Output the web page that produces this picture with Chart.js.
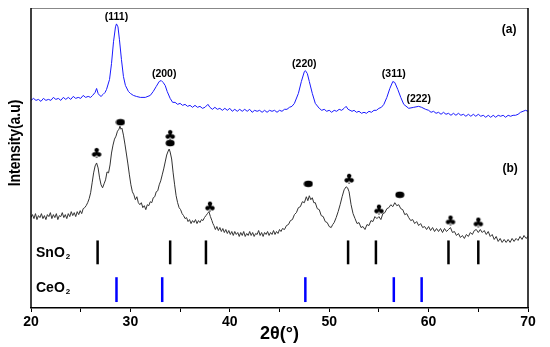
<!DOCTYPE html>
<html>
<head>
<meta charset="utf-8">
<script src="https://cdn.jsdelivr.net/npm/chart.js@4/dist/chart.umd.min.js"></script>
<style>
  html, body { margin: 0; padding: 0; background: #fff; }
  #wrap { width: 550px; height: 347px; }
</style>
</head>
<body>
<div id="wrap"><canvas id="myChart" width="550" height="347"></canvas></div>
<script>
// pattern (a) - blue
var angA = [20.0,20.25,20.5,20.75,21.0,21.25,21.5,21.75,22.0,22.25,22.5,22.75,23.0,23.25,23.5,23.75,24.0,24.25,24.5,24.75,
  25.0,25.25,25.5,25.75,26.0,26.2,26.45,26.6,26.75,26.9,27.05,27.25,27.45,27.6,27.9,28.1,28.3,28.5,28.6,28.75,
  28.9,29.1,29.3,29.5,29.8,30.0,30.3,30.6,31.0,31.5,32.0,32.3,32.6,32.9,33.1,33.3,33.5,33.7,
  34.0,34.25,34.5,34.75,35.0,35.25,35.5,35.75,36.0,36.25,36.5,36.75,37.0,37.25,37.5,37.8,38.0,38.25,38.5,38.75,
  39.0,39.25,39.5,39.75,40.0,40.25,40.5,40.75,41.0,41.25,41.5,41.75,42.0,42.25,42.5,42.75,43.0,43.25,43.5,43.75,
  44.0,44.25,44.5,44.75,45.0,45.25,45.5,45.75,46.0,46.25,46.5,46.9,47.2,47.5,47.6,47.8,48.0,48.3,48.6,
  49.0,49.25,49.5,49.75,50.0,50.25,50.5,50.75,51.0,51.25,51.5,51.7,51.9,52.1,52.3,52.5,52.75,53.0,53.25,53.5,
  53.75,54.0,54.25,54.5,54.75,55.0,55.25,55.5,55.8,56.1,56.4,56.6,56.9,57.2,57.5,58.0,58.5,59.0,59.3,59.7,
  60.0,60.25,60.5,60.75,61.0,61.25,61.5,61.75,62.0,62.25,62.5,62.75,63.0,63.25,63.5,63.75,64.0,64.25,64.5,64.75,
  65.0,65.25,65.5,65.75,66.0,66.25,66.5,66.75,67.0,67.25,67.5,67.75,68.0,68.25,68.5,68.75,69.0,69.25,69.5,69.75,70.0];
var intA = [209,211,209,210,208,211,209,210,209,212,210,211,209,212,210,212,210,213,211,212,
  211,214,212,213,212,214,217,221,216,214,213,215,217,220,230,246,268,283,286,283,
  270,250,233,224,218,216,214,213,212,212,214,218,223,228,229,227,224,218,
  211,207,207,205,206,204,205,203,204,202,204,202,203,201,202,205,202,200,202,200,
  201,199,201,199,201,198,200,198,200,198,200,198,200,197,199,198,199,197,199,197,
  199,198,199,197,199,198,200,200,202,203,206,216,228,238,239,236,228,216,206,
  201,199,200,198,199,197,199,198,200,199,201,203,200,199,198,199,197,198,196,197,
  196,198,197,199,199,201,202,205,212,221,228,227,220,212,205,201,202,203,202,200,
  199,197,198,196,197,195,197,195,196,194,196,194,196,194,195,193,195,193,195,193,
  195,193,194,192,194,192,194,192,194,193,194,192,194,193,194,194,195,197,198,199,198];

// pattern (b) - black
var angB = [20.0,20.15,20.3,20.45,20.6,20.75,20.9,21.05,21.2,21.35,21.5,21.65,21.8,21.95,22.1,22.25,22.4,22.55,22.7,22.85,
  23.0,23.15,23.3,23.45,23.6,23.75,23.9,24.05,24.2,24.35,24.5,24.65,24.8,24.95,25.1,25.25,
  25.4,25.55,25.7,25.85,26.0,26.15,26.3,26.45,26.6,26.75,26.9,27.05,27.2,27.35,27.5,27.65,27.8,27.95,28.1,28.25,
  28.4,28.55,28.7,28.85,28.95,29.05,29.15,29.3,29.45,29.6,29.75,29.9,30.05,30.2,30.35,30.5,30.65,30.8,30.95,31.1,
  31.25,31.4,31.55,31.7,31.85,32.0,32.15,32.3,32.45,32.6,32.75,32.9,33.05,33.2,33.35,33.5,33.65,33.8,33.9,34.0,
  34.15,34.3,34.45,34.6,34.75,34.9,35.05,35.2,35.35,35.5,35.65,35.8,35.95,36.1,36.25,36.4,36.55,36.7,36.85,37.0,
  37.15,37.3,37.45,37.6,37.75,37.9,38.05,38.2,38.3,
  38.4,38.55,38.7,38.85,39.0,39.15,39.3,39.45,39.6,39.75,39.9,40.05,40.2,40.35,40.5,40.65,40.8,40.95,41.1,41.25,
  41.4,41.55,41.7,41.85,42.0,42.15,42.3,42.45,42.6,42.75,42.9,43.05,43.2,43.35,43.5,43.65,43.8,43.95,44.1,44.25,
  44.4,44.55,44.7,44.85,45.0,45.15,
  45.3,45.5,45.7,45.9,46.1,46.3,46.5,46.7,46.9,47.1,47.3,47.5,47.7,47.85,48.0,48.15,48.3,48.45,48.6,48.8,
  49.0,49.2,49.4,49.6,49.8,50.0,50.2,50.35,50.5,50.7,50.9,51.1,51.3,51.5,51.7,51.85,52.0,52.2,52.4,52.6,
  52.8,53.0,53.2,53.4,53.6,53.8,54.0,54.2,54.4,54.6,54.8,55.0,55.2,55.4,55.6,55.8,56.0,56.2,56.4,56.6,
  56.8,57.0,57.2,57.4,57.6,57.8,
  58.0,58.2,58.4,58.6,58.8,59.0,59.2,59.4,59.6,59.8,60.0,60.2,60.4,60.6,60.8,61.0,61.2,61.4,61.6,61.8,
  62.0,62.2,62.4,62.6,62.8,63.0,63.2,63.4,63.6,63.8,64.0,64.2,64.4,64.6,64.8,65.0,65.2,65.4,65.6,65.8,
  66.0,66.2,66.4,66.6,66.8,67.0,67.2,67.4,67.6,67.8,68.0,68.2,68.4,68.6,68.8,69.0,69.2,69.4,69.6,69.8,70.0];
var intB = [91,94,90,95,89,93,91,95,90,93,89,94,92,96,90,94,91,95,89,93,
  92,96,91,94,90,95,92,97,93,96,92,97,94,98,95,100,
  101,103,106,110,116,126,136,143,146,141,131,124,121,125,129,137,136,144,156,164,
  170,173,178,180,183,180,181,174,165,155,145,134,124,117,114,109,112,106,104,106,
  101,103,99,104,103,107,106,111,112,117,118,124,128,134,140,147,154,158,160,157,
  150,136,124,113,106,101,99,95,93,90,91,87,89,85,88,86,89,85,88,86,
  89,88,91,93,95,97,92,88,85,
  83,79,82,78,81,77,80,76,79,75,78,74,77,73,77,74,76,72,76,73,
  77,72,75,73,77,73,76,72,75,74,78,73,76,72,76,74,77,73,76,74,
  78,74,77,75,79,77,
  80,79,83,84,88,89,94,96,101,102,107,106,112,108,113,109,111,106,106,100,
  99,93,92,87,86,82,81,84,86,91,97,104,112,119,122,121,117,104,95,90,
  85,86,81,82,79,84,83,88,87,92,90,92,89,95,96,100,101,104,102,106,
  103,104,100,99,94,95,
  91,88,89,85,87,83,85,81,82,79,82,78,81,77,80,77,80,76,80,77,
  79,81,76,77,73,75,71,73,70,74,72,76,74,78,79,76,79,76,78,74,
  77,72,74,69,72,67,70,66,69,66,69,66,70,67,70,68,72,69,73,70,72];

// reference sticks
var sno2Pos = [26.7, 34.0, 37.6, 51.9, 54.7, 62.0, 65.0];
var ceo2Pos = [28.6, 33.2, 47.6, 56.5, 59.3];

// phase markers on (b)
var clubX = [26.6, 34.0, 38.0, 52.0, 55.0, 62.2, 65.0];
var clubY = [155, 173, 101, 129, 98, 87, 85];
var dotX = [29.0, 34.0, 47.9, 57.1];
var dotY = [187, 166, 125, 114];

// hkl labels on (a)
var hklText = ['(111)', '(200)', '(220)', '(311)', '(222)'];
var hklX = [28.6, 33.4, 47.5, 56.5, 59.0];
var hklY = [293, 235, 246, 235, 210];

function pts(xs, ys) {
  var out = [];
  for (var i = 0; i < xs.length; i++) out.push({x: xs[i], y: ys[i]});
  return out;
}

// marker images
var clubImg = document.createElement('canvas');
clubImg.width = 14; clubImg.height = 14;
var c1 = clubImg.getContext('2d');
c1.fillStyle = '#000';
c1.font = 'bold 14px "DejaVu Sans"';
c1.textAlign = 'center';
c1.textBaseline = 'middle';
c1.fillText('\u2663', 7, 7.5);

var dotImg = document.createElement('canvas');
dotImg.width = 10; dotImg.height = 8;
var c2 = dotImg.getContext('2d');
c2.fillStyle = '#000';
c2.beginPath();
c2.ellipse(5, 4, 4.5, 3.2, 0, 0, Math.PI * 2);
c2.fill();

var datasets = [
  { data: pts(angA, intA), borderColor: '#1a1aff', borderWidth: 1, pointRadius: 0, tension: 0 },
  { data: pts(angB, intB), borderColor: '#333', borderWidth: 1, pointRadius: 0, tension: 0 },
  { type: 'scatter', data: pts(clubX, clubY), pointStyle: clubImg, pointRadius: 7 },
  { type: 'scatter', data: pts(dotX, dotY), pointStyle: dotImg, pointRadius: 5 }
];
sno2Pos.forEach(function (p) {
  datasets.push({ data: [{x: p, y: 44}, {x: p, y: 68}], borderColor: '#000', borderWidth: 2.5, pointRadius: 0 });
});
ceo2Pos.forEach(function (p) {
  datasets.push({ data: [{x: p, y: 6}, {x: p, y: 31}], borderColor: '#0000ff', borderWidth: 2.5, pointRadius: 0 });
});

var extras = {
  id: 'extras',
  afterDatasetsDraw: function (chart) {
    var ctx = chart.ctx, xs = chart.scales.x, ys = chart.scales.y, a = chart.chartArea;
    ctx.save();
    ctx.fillStyle = '#000';
    ctx.textAlign = 'center';
    ctx.textBaseline = 'middle';
    ctx.font = 'bold 10.5px "Liberation Sans"';
    for (var i = 0; i < hklText.length; i++) {
      ctx.fillText(hklText[i], xs.getPixelForValue(hklX[i]), ys.getPixelForValue(hklY[i]));
    }
    ctx.font = 'bold 12px "Liberation Sans"';
    ctx.fillText('(a)', xs.getPixelForValue(68.1), ys.getPixelForValue(280));
    ctx.fillText('(b)', xs.getPixelForValue(68.2), ys.getPixelForValue(140));

    // phase names
    ctx.textAlign = 'left';
    ctx.textBaseline = 'alphabetic';
    [['SnO', 257], ['CeO', 292]].forEach(function (l) {
      ctx.font = 'bold 14px "Liberation Sans"';
      ctx.fillText(l[0], 36, l[1]);
      var w = ctx.measureText(l[0]).width;
      ctx.font = 'bold 8px "Liberation Sans"';
      ctx.fillText('2', 36 + w + 1, l[1] + 2);
    });

    // frame
    ctx.strokeStyle = '#888';
    ctx.lineWidth = 1;
    ctx.beginPath();
    ctx.moveTo(a.left, a.top + 0.5); ctx.lineTo(a.right, a.top + 0.5);
    ctx.stroke();
    ctx.strokeStyle = '#000';
    ctx.lineWidth = 1.5;
    ctx.beginPath();
    ctx.moveTo(a.left, a.top); ctx.lineTo(a.left, a.bottom);
    ctx.moveTo(a.right, a.top); ctx.lineTo(a.right, a.bottom);
    ctx.stroke();

    // y title
    ctx.translate(15, 143);
    ctx.rotate(-Math.PI / 2);
    ctx.scale(0.82, 1);
    ctx.textAlign = 'center';
    ctx.textBaseline = 'middle';
    ctx.font = 'bold 17px "Liberation Sans Narrow", "Liberation Sans", sans-serif';
    ctx.fillText('Intensity(a.u)', 0, 0);
    ctx.restore();
  }
};

const ctx = document.getElementById('myChart').getContext('2d');
const myChart = new Chart(ctx, {
  type: 'line',
  data: { datasets: datasets },
  options: {
    responsive: false,
    animation: false,
    events: [],
    layout: { padding: { left: 31, right: 22, top: 6, bottom: 0 } },
    plugins: { legend: { display: false }, tooltip: { enabled: false } },
    scales: {
      x: {
        type: 'linear',
        min: 20, max: 70,
        afterFit: function (s) { s.height = 39; },
        ticks: {
          stepSize: 5,
          autoSkip: false,
          maxRotation: 0,
          padding: 2,
          color: '#000',
          font: { family: 'Liberation Sans', size: 14, weight: 'bold' },
          callback: function (v) { return v % 10 === 0 ? v : ''; }
        },
        grid: { drawOnChartArea: false, tickLength: 4, color: '#000' },
        border: { display: true, color: '#000', width: 1.5 },
        title: {
          display: true,
          text: '2\u03b8(\u00b0)',
          color: '#000',
          font: { family: 'Liberation Sans', size: 18, weight: 'bold' },
          padding: { top: 0, bottom: 2 }
        }
      },
      y: { type: 'linear', min: 0, max: 302, display: false }
    }
  },
  plugins: [extras]
});
</script>
</body>
</html>
